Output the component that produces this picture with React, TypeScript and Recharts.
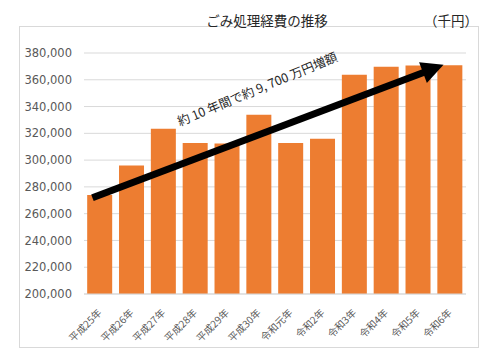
import { Bar, BarChart, CartesianGrid, ReferenceLine, XAxis, YAxis } from 'recharts'

const years = [
  '平成25年',
  '平成26年',
  '平成27年',
  '平成28年',
  '平成29年',
  '平成30年',
  '令和元年',
  '令和2年',
  '令和3年',
  '令和4年',
  '令和5年',
  '令和6年',
]
const costs = [274000, 296000, 323500, 312700, 312500, 333800, 312700, 316000, 363800, 369700, 370700, 370800]
const yTicks = [200000, 220000, 240000, 260000, 280000, 300000, 320000, 340000, 360000, 380000]
const arrowFrom = { x: '平成25年', y: 274000 }
const arrowTo = { x: '令和6年', y: 373000 }
const note = '約 10 年間で約 9, 700 万円増額'

const jp = '"Noto Sans CJK JP", "Noto Sans", sans-serif'

const data = years.map((year, i) => ({ year, cost: costs[i] }))

function YearTick({ x, y, payload }: { x: number; y: number; payload: { value: string } }) {
  return (
    <text
      x={0}
      y={0}
      transform={`translate(${x},${y + 17}) rotate(-45)`}
      textAnchor="end"
      dy="0.35em"
      fontSize={10}
      fill="#595959"
      fontFamily={jp}
    >
      {payload.value}
    </text>
  )
}

function TrendArrow(props: { x1: number; y1: number; x2: number; y2: number }) {
  const { x1, y1, x2, y2 } = props
  const dx = x2 - x1
  const dy = y2 - y1
  const len = Math.hypot(dx, dy)
  const ux = dx / len
  const uy = dy / len
  const sx = x1 - ux * 8
  const sy = y1 - uy * 8
  const tx = x2 - ux * 7
  const ty = y2 - uy * 7
  const bx = tx - ux * 22
  const by = ty - uy * 22
  const nx = -uy
  const ny = ux
  const angle = (Math.atan2(dy, dx) * 180) / Math.PI
  // label sits above the middle of the arrow
  const mx = (sx + tx) / 2 - 11
  const my = (sy + ty) / 2 - 43
  return (
    <g>
      <line x1={sx} y1={sy} x2={bx + ux * 2} y2={by + uy * 2} stroke="#000" strokeWidth={7} />
      <polygon
        points={`${tx},${ty} ${bx + nx * 11},${by + ny * 11} ${bx - nx * 11},${by - ny * 11}`}
        fill="#000"
      />
      <text
        x={mx}
        y={my}
        transform={`rotate(${angle - 1.8},${mx},${my})`}
        textAnchor="middle"
        dominantBaseline="central"
        fontSize={12.5}
        fill="#262626"
        fontFamily={jp}
      >
        {note}
      </text>
    </g>
  )
}

export default function App() {
  return (
    <div style={{ position: 'absolute', left: 0, top: 0, width: 500, height: 356, background: '#fff' }}>
      <div
        style={{
          position: 'absolute',
          left: 19,
          top: 26,
          width: 458,
          height: 320,
          border: '1px solid #d9d9d9',
        }}
      />
      <div
        style={{
          position: 'absolute',
          left: 167,
          top: 10,
          width: 200,
          textAlign: 'center',
          fontFamily: jp,
          fontSize: 13.5,
          lineHeight: '20px',
          color: '#262626',
        }}
      >
        ごみ処理経費の推移
      </div>
      <div
        style={{
          position: 'absolute',
          left: 424,
          top: 10,
          fontFamily: jp,
          fontSize: 13.5,
          lineHeight: '20px',
          color: '#262626',
        }}
      >
        （千円）
      </div>
      <div style={{ position: 'absolute', left: 0, top: 0 }}>
        <BarChart
          width={500}
          height={356}
          data={data}
          margin={{ top: 53, right: 34, bottom: 0, left: 0 }}
          barCategoryGap="10%"
        >
          <CartesianGrid vertical={false} stroke="#d9d9d9" />
          <XAxis
            dataKey="year"
            height={62}
            interval={0}
            tickLine={false}
            tickSize={0}
            tickMargin={0}
            axisLine={{ stroke: '#d9d9d9' }}
            tick={YearTick}
          />
          <YAxis
            width={84}
            domain={[200000, 380000]}
            ticks={yTicks}
            axisLine={false}
            tickLine={false}
            tickSize={0}
            tickMargin={12}
            tickFormatter={(v: number) => v.toLocaleString('en-US')}
            tick={{ fontSize: 11.5, fill: '#595959', fontFamily: '"DejaVu Sans", sans-serif' }}
          />
          <Bar dataKey="cost" fill="#ED7D31" isAnimationActive={false} />
          <ReferenceLine segment={[arrowFrom, arrowTo]} ifOverflow="visible" shape={TrendArrow} />
        </BarChart>
      </div>
    </div>
  )
}
